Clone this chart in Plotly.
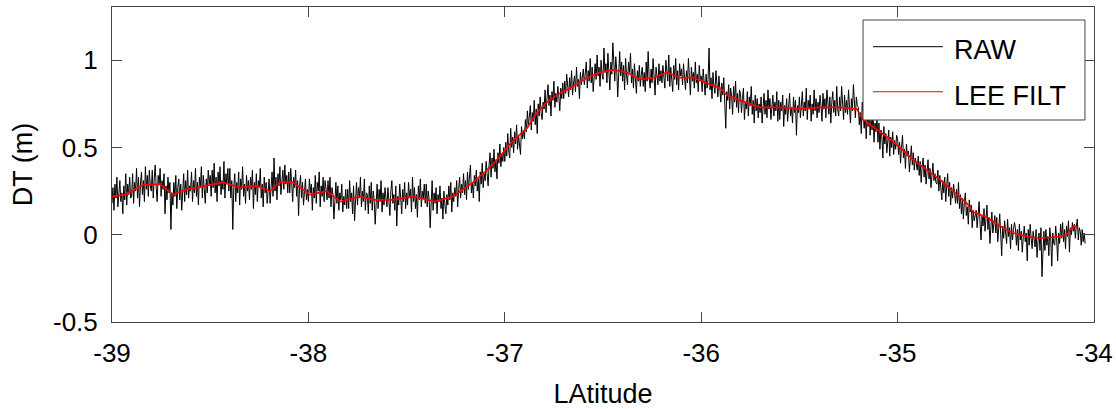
import numpy as np
import plotly.graph_objects as go

# ---------------- data ----------------
raw_lat_start = -39.0
raw_lat_step = 0.005
raw_dt = [
    0.18, 0.27, 0.14, 0.29, 0.21, 0.33, 0.16, 0.26, 0.31, 0.19, 0.24, 0.12, 0.28, 0.20, 0.35, 0.17, 0.29, 0.23, 0.33, 0.21,
    0.22, 0.35, 0.18, 0.30, 0.25, 0.38, 0.21, 0.33, 0.16, 0.29, 0.36, 0.23, 0.31, 0.19, 0.39, 0.26, 0.34, 0.22, 0.37, 0.28,
    0.25, 0.37, 0.21, 0.32, 0.40, 0.27, 0.19, 0.34, 0.29, 0.38, 0.22, 0.31, 0.26, 0.35, 0.12, 0.28, 0.20, 0.33, 0.24, 0.30,
    0.03, 0.24, 0.17, 0.30, 0.22, 0.34, 0.15, 0.27, 0.32, 0.20, 0.29, 0.14, 0.26, 0.35, 0.19, 0.31, 0.23, 0.37, 0.21, 0.28,
    0.25, 0.36, 0.19, 0.31, 0.24, 0.38, 0.22, 0.30, 0.17, 0.33, 0.27, 0.39, 0.21, 0.34, 0.26, 0.18, 0.32, 0.24, 0.37, 0.29,
    0.34, 0.22, 0.37, 0.27, 0.41, 0.24, 0.33, 0.19, 0.36, 0.28, 0.39, 0.23, 0.31, 0.26, 0.42, 0.21, 0.35, 0.29, 0.38, 0.25,
    0.38, 0.21, 0.31, 0.03, 0.27, 0.35, 0.19, 0.30, 0.24, 0.36, 0.17, 0.32, 0.26, 0.39, 0.22, 0.29, 0.18, 0.34, 0.25, 0.31,
    0.20, 0.33, 0.26, 0.37, 0.15, 0.30, 0.23, 0.35, 0.19, 0.31, 0.27, 0.38, 0.21, 0.29, 0.16, 0.33, 0.24, 0.30, 0.18, 0.28,
    0.32, 0.18, 0.27, 0.36, 0.22, 0.44, 0.25, 0.33, 0.20, 0.35, 0.28, 0.39, 0.23, 0.31, 0.37, 0.26, 0.40, 0.29, 0.34, 0.24,
    0.36, 0.24, 0.38, 0.29, 0.19, 0.33, 0.27, 0.37, 0.22, 0.31, 0.11, 0.28, 0.34, 0.21, 0.30, 0.17, 0.27, 0.32, 0.20, 0.26,
    0.19, 0.32, 0.24, 0.29, 0.14, 0.27, 0.21, 0.34, 0.18, 0.30, 0.25, 0.36, 0.16, 0.28, 0.22, 0.33, 0.19, 0.31, 0.26, 0.20,
    0.31, 0.21, 0.33, 0.16, 0.27, 0.23, 0.09, 0.25, 0.30, 0.18, 0.28, 0.14, 0.24, 0.20, 0.29, 0.13, 0.22, 0.17, 0.26, 0.15,
    0.26, 0.15, 0.31, 0.19, 0.24, 0.12, 0.28, 0.08, 0.23, 0.30, 0.17, 0.27, 0.21, 0.33, 0.16, 0.25, 0.19, 0.32, 0.14, 0.24,
    0.23, 0.12, 0.28, 0.18, 0.30, 0.14, 0.25, 0.20, 0.06, 0.22, 0.29, 0.15, 0.26, 0.19, 0.31, 0.13, 0.24, 0.17, 0.27, 0.21,
    0.16, 0.27, 0.20, 0.11, 0.25, 0.31, 0.18, 0.23, 0.14, 0.28, 0.05, 0.22, 0.17, 0.29, 0.21, 0.12, 0.26, 0.19, 0.30, 0.15,
    0.24, 0.17, 0.30, 0.21, 0.26, 0.13, 0.33, 0.19, 0.27, 0.15, 0.23, 0.10, 0.28, 0.20, 0.32, 0.16, 0.25, 0.21, 0.29, 0.18,
    0.29, 0.16, 0.25, 0.20, 0.04, 0.22, 0.31, 0.14, 0.24, 0.18, 0.27, 0.12, 0.23, 0.19, 0.28, 0.15, 0.21, 0.09, 0.25, 0.17,
    0.12, 0.23, 0.17, 0.28, 0.20, 0.30, 0.13, 0.24, 0.19, 0.27, 0.22, 0.31, 0.16, 0.26, 0.33, 0.21, 0.29, 0.24, 0.35, 0.23,
    0.31, 0.20, 0.36, 0.26, 0.33, 0.40, 0.24, 0.30, 0.21, 0.34, 0.28, 0.37, 0.25, 0.32, 0.19, 0.36, 0.29, 0.41, 0.27, 0.35,
    0.31, 0.42, 0.35, 0.28, 0.40, 0.47, 0.33, 0.44, 0.38, 0.49, 0.36, 0.43, 0.32, 0.47, 0.41, 0.52, 0.39, 0.46, 0.42, 0.50,
    0.42, 0.53, 0.45, 0.58, 0.48, 0.44, 0.61, 0.50, 0.56, 0.47, 0.59, 0.52, 0.63, 0.49, 0.57, 0.53, 0.46, 0.62, 0.55, 0.60,
    0.55, 0.66, 0.59, 0.71, 0.62, 0.68, 0.74, 0.60, 0.70, 0.65, 0.77, 0.63, 0.72, 0.58, 0.75, 0.68, 0.79, 0.70, 0.66, 0.76,
    0.72, 0.83, 0.70, 0.78, 0.86, 0.74, 0.80, 0.68, 0.82, 0.77, 0.88, 0.73, 0.81, 0.76, 0.85, 0.79, 0.71, 0.84, 0.78, 0.87,
    0.78, 0.88, 0.81, 0.92, 0.84, 0.79, 0.90, 0.83, 0.94, 0.80, 0.87, 0.91, 0.82, 0.96, 0.85, 0.89, 0.78, 0.93, 0.86, 0.90,
    0.95, 0.86, 0.92, 0.99, 0.84, 0.94, 0.88, 1.01, 0.87, 0.96, 0.82, 0.93, 0.98, 0.89, 1.03, 0.91, 0.96, 0.85, 1.00, 0.92,
    0.89, 1.07, 0.93, 0.98, 0.87, 1.04, 0.95, 0.83, 0.99, 0.92, 1.10, 0.96, 0.88, 1.02, 0.94, 0.79, 0.97, 1.05, 0.91, 0.99,
    0.88, 0.97, 0.83, 1.01, 0.91, 0.86, 0.99, 0.93, 1.04, 0.87, 0.95, 0.84, 0.98, 0.90, 0.81, 0.94, 0.88, 0.97, 0.85, 0.92,
    0.96, 0.85, 0.93, 0.82, 0.99, 0.88, 1.05, 0.90, 0.84, 0.95, 0.87, 1.01, 0.89, 0.80, 0.96, 0.91, 0.86, 0.98, 0.88, 0.94,
    0.87, 0.97, 0.91, 0.84, 1.00, 0.93, 0.88, 1.03, 0.85, 0.96, 0.90, 0.82, 0.97, 0.89, 1.01, 0.86, 0.94, 0.83, 0.98, 0.91,
    0.95, 0.86, 0.98, 0.89, 0.83, 0.94, 0.87, 1.01, 0.90, 0.80, 0.96, 0.88, 0.93, 0.84, 0.99, 0.87, 0.92, 0.82, 0.97, 0.89,
    0.91, 0.82, 0.95, 0.86, 0.80, 0.92, 0.84, 0.89, 1.07, 0.83, 0.90, 0.78, 0.93, 0.85, 0.81, 0.94, 0.86, 0.79, 0.91, 0.83,
    0.76, 0.87, 0.80, 0.90, 0.74, 0.61, 0.82, 0.77, 0.86, 0.72, 0.84, 0.79, 0.69, 0.85, 0.76, 0.88, 0.73, 0.81, 0.70, 0.83,
    0.81, 0.70, 0.78, 0.84, 0.66, 0.76, 0.72, 0.82, 0.68, 0.79, 0.74, 0.85, 0.69, 0.77, 0.64, 0.80, 0.71, 0.78, 0.67, 0.75,
    0.70, 0.79, 0.64, 0.75, 0.81, 0.69, 0.77, 0.67, 0.83, 0.72, 0.78, 0.66, 0.74, 0.80, 0.68, 0.76, 0.71, 0.82, 0.65, 0.77,
    0.66, 0.76, 0.71, 0.80, 0.62, 0.74, 0.69, 0.78, 0.65, 0.75, 0.81, 0.68, 0.73, 0.64, 0.79, 0.70, 0.77, 0.57, 0.74, 0.70,
    0.79, 0.67, 0.74, 0.82, 0.68, 0.76, 0.71, 0.84, 0.66, 0.77, 0.72, 0.80, 0.65, 0.75, 0.69, 0.83, 0.71, 0.78, 0.67, 0.76,
    0.70, 0.80, 0.74, 0.65, 0.81, 0.72, 0.78, 0.67, 0.83, 0.73, 0.69, 0.79, 0.64, 0.76, 0.82, 0.70, 0.77, 0.68, 0.85, 0.72,
    0.68, 0.79, 0.71, 0.85, 0.74, 0.66, 0.80, 0.70, 0.77, 0.69, 0.83, 0.73, 0.64, 0.78, 0.71, 0.86, 0.72, 0.67, 0.79, 0.74,
    0.73, 0.63, 0.70, 0.58, 0.76, 0.66, 0.61, 0.71, 0.55, 0.68, 0.62, 0.74, 0.57, 0.66, 0.60, 0.70, 0.53, 0.64, 0.59, 0.67,
    0.53, 0.64, 0.49, 0.60, 0.56, 0.44, 0.62, 0.52, 0.58, 0.47, 0.55, 0.60, 0.45, 0.56, 0.50, 0.59, 0.46, 0.54, 0.49, 0.57,
    0.55, 0.46, 0.53, 0.41, 0.50, 0.57, 0.44, 0.49, 0.38, 0.52, 0.45, 0.48, 0.36, 0.46, 0.51, 0.40, 0.47, 0.37, 0.44, 0.41,
    0.37, 0.45, 0.34, 0.42, 0.30, 0.39, 0.44, 0.33, 0.40, 0.29, 0.37, 0.43, 0.32, 0.38, 0.27, 0.36, 0.41, 0.31, 0.35, 0.30,
    0.29, 0.37, 0.25, 0.34, 0.27, 0.20, 0.31, 0.24, 0.33, 0.19, 0.28, 0.35, 0.22, 0.30, 0.17, 0.27, 0.21, 0.29, 0.24, 0.18,
    0.26, 0.18, 0.30, 0.15, 0.23, 0.12, 0.21, 0.09, 0.19, 0.24, 0.11, 0.16, 0.06, 0.20, 0.13, 0.17, 0.04, 0.14, 0.08, 0.12,
    0.14, 0.04, 0.13, 0.19, 0.06, -0.03, 0.11, 0.05, 0.15, 0.02, 0.09, 0.17, 0.03, 0.10, -0.05, 0.08, 0.13, 0.01, 0.07, 0.11,
    0.01, 0.10, -0.04, 0.07, 0.12, 0.00, -0.12, 0.05, -0.02, 0.08, 0.02, -0.05, 0.09, -0.01, 0.04, -0.08, 0.06, -0.03, 0.03, 0.07,
    0.04, -0.06, 0.03, -0.09, 0.06, -0.03, 0.02, -0.10, -0.01, 0.05, -0.04, 0.01, -0.15, 0.03, -0.06, 0.06, -0.02, -0.08, 0.02, -0.05,
    -0.07, 0.03, -0.13, -0.04, 0.01, -0.09, 0.04, -0.24, -0.05, 0.02, -0.09, 0.03, -0.06, -0.01, -0.12, 0.04, -0.03, -0.18, 0.01, -0.05,
    -0.06, 0.05, -0.03, -0.15, 0.01, -0.05, 0.06, -0.02, 0.07, -0.04, 0.03, -0.08, 0.05, -0.01, 0.08, -0.10, 0.04, 0.00, 0.07, 0.02,
    0.06, -0.02, 0.05, 0.09, -0.03, 0.04, 0.02, -0.06, 0.03, -0.04, 0.01, -0.05,
]
raw_lat = raw_lat_start + raw_lat_step * np.arange(len(raw_dt))

filt_lat = [
    -39.000, -38.934, -38.842, -38.756, -38.689, -38.618, -38.435, -38.348,
    -38.262, -38.196, -38.145, -38.078, -37.992, -37.905, -37.839, -37.737,
    -37.671, -37.569, -37.467, -37.380, -37.355, -37.264, -37.213, -37.162,
    -37.091, -37.024, -36.958, -36.887, -36.836, -36.785, -36.719, -36.653,
    -36.581, -36.515, -36.449, -36.378, -36.312, -36.245, -36.174, -36.108,
    -36.042, -35.970, -35.904, -35.869, -35.802, -35.701, -35.599, -35.497,
    -35.395, -35.293, -35.207, -35.176, -35.125, -35.054, -34.988, -34.922,
    -34.850, -34.784, -34.718, -34.647, -34.616, -34.545, -34.479, -34.412,
    -34.341, -34.275, -34.173, -34.140, -34.120, -34.100, -34.087,
]
filt_dt = [
    0.22, 0.23, 0.285, 0.29, 0.23, 0.26, 0.30, 0.27,
    0.28, 0.25, 0.30, 0.30, 0.23, 0.25, 0.19, 0.22,
    0.20, 0.20, 0.22, 0.20, 0.19, 0.22, 0.26, 0.30,
    0.37, 0.45, 0.54, 0.61, 0.70, 0.76, 0.81, 0.85,
    0.90, 0.93, 0.945, 0.93, 0.89, 0.90, 0.93, 0.90,
    0.90, 0.87, 0.84, 0.80, 0.77, 0.73, 0.73, 0.72,
    0.73, 0.73, 0.72, 0.66, 0.62, 0.56, 0.50, 0.43,
    0.37, 0.315, 0.25, 0.18, 0.13, 0.10, 0.05, 0.01,
    -0.01, -0.02, -0.01, 0.00, 0.03, 0.05, 0.045,
]

x_ticks = [-39, -38, -37, -36, -35, -34]
x_tick_labels = ["-39", "-38", "-37", "-36", "-35", "-34"]
y_ticks = [-0.5, 0, 0.5, 1]
y_tick_labels = ["-0.5", "0", "0.5", "1"]
series_names = ["RAW", "LEE FILT"]
series_colors = ["#000000", "#ff0000"]

# ---------------- figure ----------------
FONT = "Liberation Sans, Arial, Helvetica, sans-serif"
AXC = "#444444"

fig = go.Figure()
fig.add_trace(go.Scatter(x=raw_lat, y=raw_dt, mode="lines", name=series_names[0],
                         line=dict(color=series_colors[0], width=1), showlegend=False))
fig.add_trace(go.Scatter(x=filt_lat, y=filt_dt, mode="lines", name=series_names[1],
                         line=dict(color=series_colors[1], width=1.7), showlegend=False))

axis_common = dict(showline=True, linecolor=AXC, linewidth=1, mirror="ticks",
                   ticks="inside", ticklen=10, tickwidth=1, tickcolor=AXC,
                   showgrid=False, zeroline=False, automargin=False,
                   tickfont=dict(family=FONT, size=26, color="black"))

fig.update_xaxes(range=[-39, -34], tickmode="array", tickvals=x_ticks, ticktext=x_tick_labels,
                 title=dict(text="LAtitude", font=dict(family=FONT, size=27, color="black"), standoff=16),
                 ticklabelstandoff=8, **axis_common)
fig.update_yaxes(range=[-0.5, 1.305], tickmode="array", tickvals=y_ticks, ticktext=y_tick_labels,
                 title=dict(text="DT (m)", font=dict(family=FONT, size=27, color="black"), standoff=12),
                 ticklabelstandoff=8, **axis_common)

# legend box (MATLAB style, drawn in paper coordinates)
lx0, lx1, ly0, ly1 = 0.7648, 0.9908, 0.6413, 0.9587
fig.add_shape(type="rect", xref="paper", yref="paper", x0=lx0, x1=lx1, y0=ly0, y1=ly1,
              line=dict(color=AXC, width=1), fillcolor="white", layer="above")
rows = [0.874, 0.731]
for name, color, ry in zip(series_names, series_colors, rows):
    fig.add_shape(type="line", xref="paper", yref="paper", x0=0.7749, x1=0.8462, y0=ry, y1=ry,
                  line=dict(color=color, width=1), layer="above")
    fig.add_annotation(xref="paper", yref="paper", x=0.855, y=ry - 0.012, text=name,
                       showarrow=False, xanchor="left", yanchor="middle",
                       font=dict(family=FONT, size=27, color="black"))

fig.update_layout(width=1116, height=409, template="none",
                  margin=dict(l=112, r=22, t=7, b=87, pad=0),
                  plot_bgcolor="white", paper_bgcolor="white",
                  font=dict(family=FONT, size=26, color="black"),
                  showlegend=False)

fig.write_html("out.html")
